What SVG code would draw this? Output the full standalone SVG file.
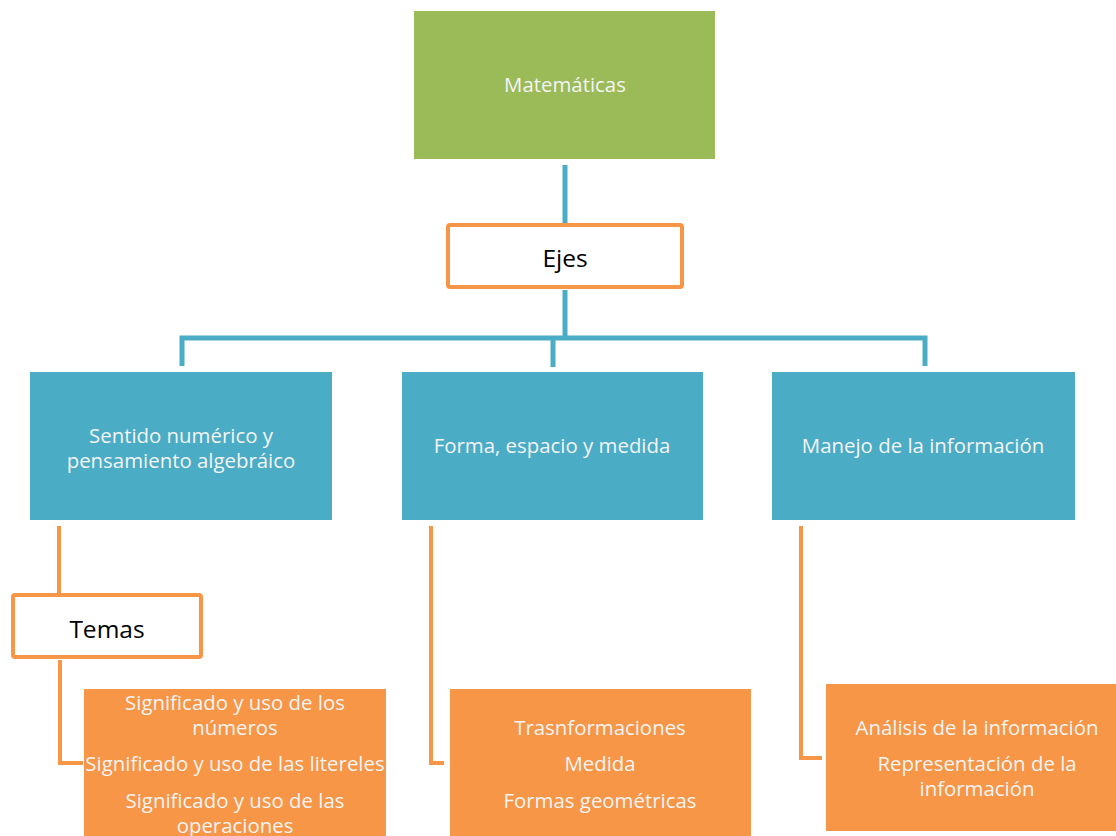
<svg xmlns="http://www.w3.org/2000/svg" width="1116" height="836" viewBox="0 0 1116 836">
<style>
.green{fill:#9BBB59}
.blue{fill:#4BACC6}
.org{fill:#F79646}
.outl{fill:#fff;stroke:#F79646;stroke-width:4}
.wt{fill:#F4F4F4;font-family:"Open Sans",sans-serif;font-size:20.4px;text-anchor:middle;dominant-baseline:central}
.bt{fill:#000;font-family:"Open Sans",sans-serif;font-size:24.5px;text-anchor:middle;dominant-baseline:central}
.tl{stroke:#4BACC6;stroke-width:5;fill:none}
.ol{stroke:#F79646;stroke-width:4;fill:none}
</style>
<rect width="1116" height="836" fill="#fff"/>
<g id="connectors">
<line class="tl" x1="565" y1="165" x2="565" y2="224"/>
<line class="tl" x1="565" y1="290" x2="565" y2="338"/>
<polyline class="tl" points="182,366 182,338 925,338 925,366"/>
<line class="tl" x1="553" y1="338" x2="553" y2="367"/>
<line class="ol" x1="59" y1="526" x2="59" y2="594"/>
<polyline class="ol" points="60,660 60,763 83,763"/>
<polyline class="ol" points="431,526 431,763 444,763"/>
<polyline class="ol" points="801,526 801,758 822,758"/>
</g>
<g id="matematicas"><rect class="green" x="414" y="11" width="301" height="148"/><text class="wt" x="565" y="84">Matemáticas</text></g>
<g id="ejes"><rect class="outl" x="448" y="225" width="234" height="62" rx="2"/><text class="bt" x="565" y="257">Ejes</text></g>
<g id="sentido"><rect class="blue" x="30" y="372" width="302" height="148"/><text class="wt" x="181" y="435">Sentido numérico y</text><text class="wt" x="181" y="460">pensamiento algebráico</text></g>
<g id="forma"><rect class="blue" x="402" y="372" width="301" height="148"/><text class="wt" x="552" y="445">Forma, espacio y medida</text></g>
<g id="manejo"><rect class="blue" x="772" y="372" width="303" height="148"/><text class="wt" x="923" y="445">Manejo de la información</text></g>
<g id="temas"><rect class="outl" x="13" y="595" width="188" height="62" rx="2"/><text class="bt" x="107" y="628">Temas</text></g>
<g id="temas1"><rect class="org" x="84" y="689" width="302" height="147"/>
<text class="wt" x="235" y="702">Significado y uso de los</text>
<text class="wt" x="235" y="727">números</text>
<text class="wt" x="235" y="763">Significado y uso de las litereles</text>
<text class="wt" x="235" y="800">Significado y uso de las</text>
<text class="wt" x="235" y="825">operaciones</text></g>
<g id="temas2"><rect class="org" x="450" y="689" width="301" height="147"/>
<text class="wt" x="600" y="727">Trasnformaciones</text>
<text class="wt" x="600" y="763">Medida</text>
<text class="wt" x="600" y="800">Formas geométricas</text></g>
<g id="temas3"><rect class="org" x="826" y="684" width="290" height="147"/>
<text class="wt" x="977" y="727">Análisis de la información</text>
<text class="wt" x="977" y="763">Representación de la</text>
<text class="wt" x="977" y="788">información</text></g>
</svg>
